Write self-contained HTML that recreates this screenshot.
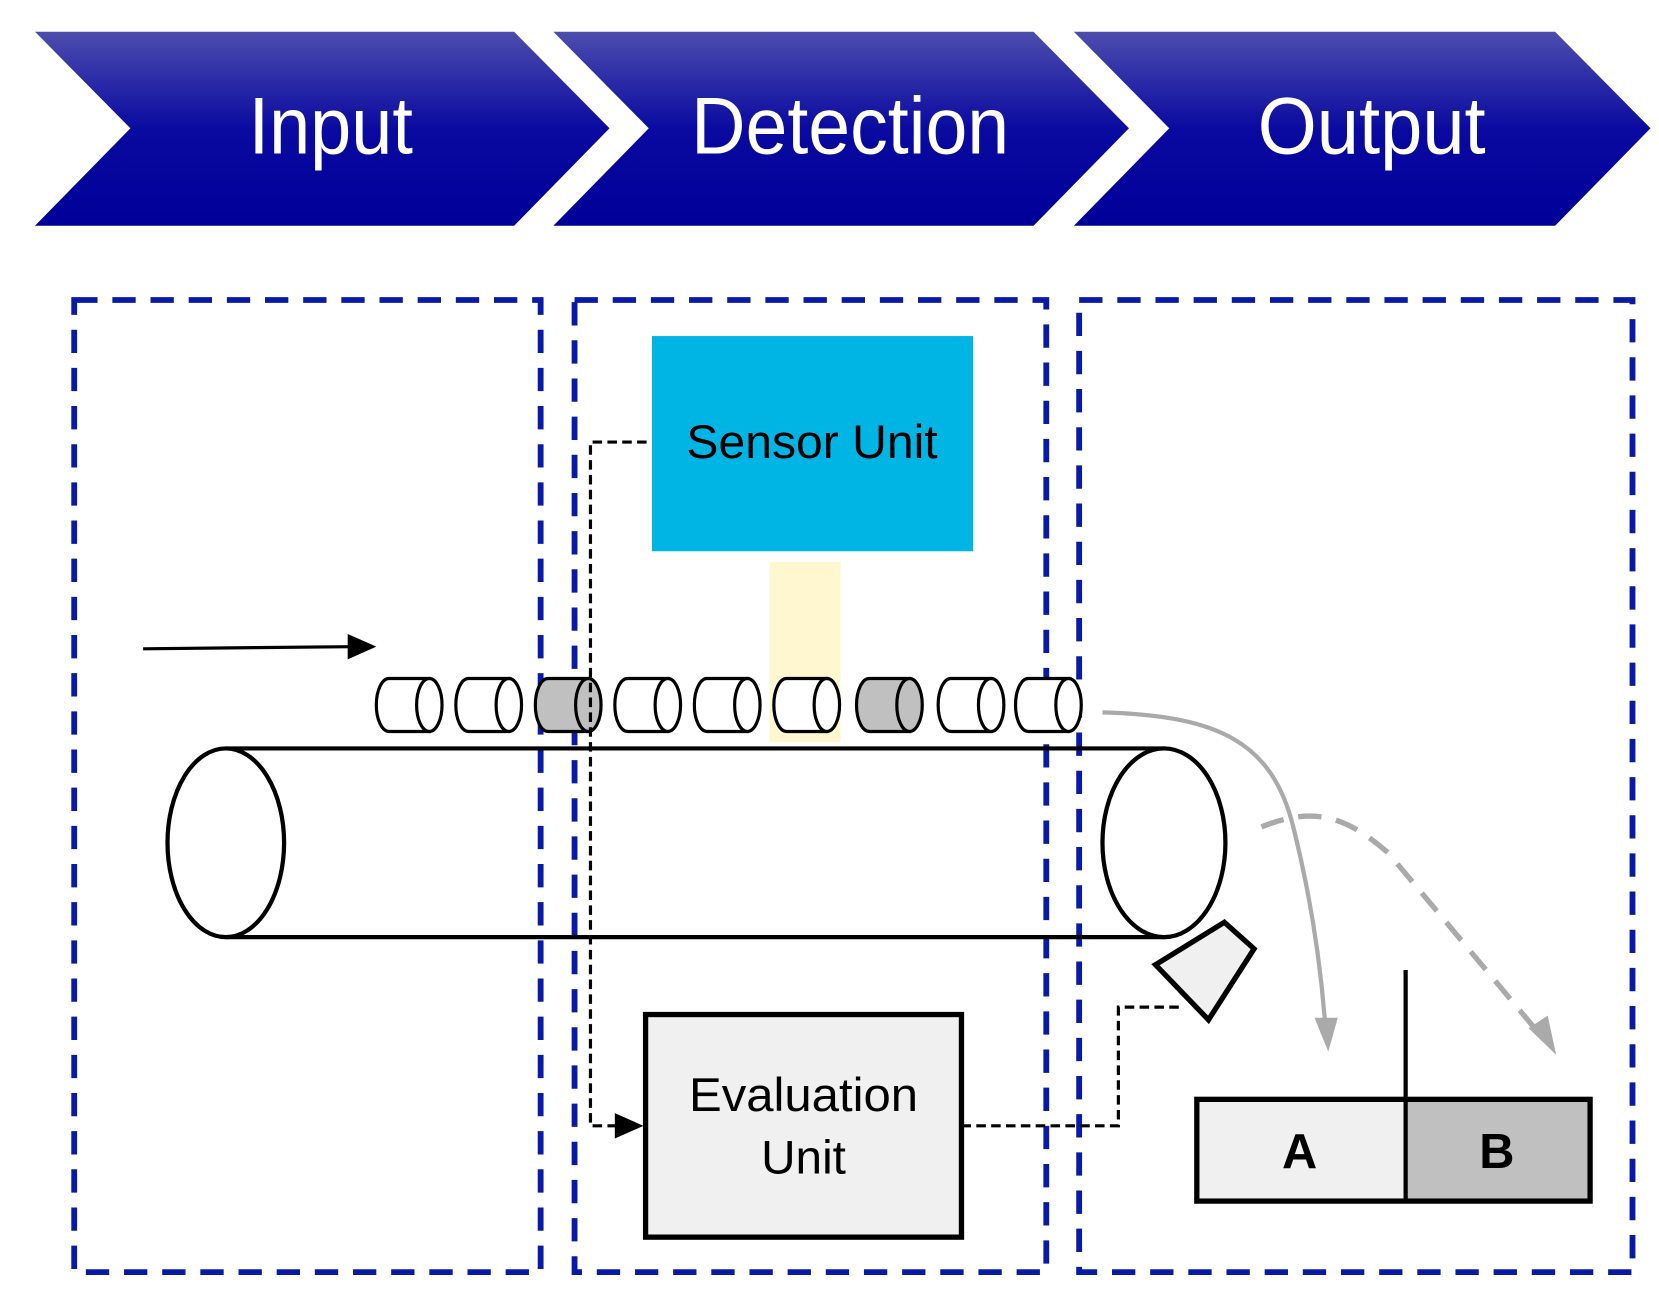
<!DOCTYPE html>
<html><head><meta charset="utf-8"><style>html,body{margin:0;padding:0;background:#fff;}svg{display:block}</style></head>
<body>
<svg width="1659" height="1305" viewBox="0 0 1565 1231" preserveAspectRatio="none" xmlns="http://www.w3.org/2000/svg" font-family="Liberation Sans, Arial, sans-serif">
<defs>
<linearGradient id="g" x1="0" y1="0" x2="0" y2="1">
<stop offset="0" stop-color="#4d4dae"/><stop offset="0.5" stop-color="#0a0aa0"/><stop offset="1" stop-color="#000099"/>
</linearGradient>
</defs>
<g fill="url(#g)">
<polygon points="33,30 485,30 575,121 485,213 33,213 123,121"/>
<polygon points="522,30 975,30 1065,121 975,213 522,213 612,121"/>
<polygon points="1013,30 1467,30 1557,121 1467,213 1013,213 1103,121"/>
</g>
<g fill="#fff" font-size="76" text-anchor="middle">
<text x="312" y="145" textLength="155" lengthAdjust="spacingAndGlyphs">Input</text>
<text x="802" y="145" textLength="300" lengthAdjust="spacingAndGlyphs">Detection</text>
<text x="1294" y="145" textLength="215" lengthAdjust="spacingAndGlyphs">Output</text>
</g>
<g fill="none" stroke="#0a1aa8" stroke-width="5.5" stroke-dasharray="22,14">
<rect x="70" y="283" width="440" height="917"/>
<rect x="542" y="283" width="445" height="917"/>
<rect x="1018" y="283" width="522" height="917"/>
</g>
<rect x="726" y="530" width="67" height="170" fill="#fff7cf"/>
<rect x="615" y="317" width="303" height="203" fill="#00b4e4"/>
<text x="766" y="432" font-size="45" text-anchor="middle" textLength="237" lengthAdjust="spacingAndGlyphs">Sensor Unit</text>
<line x1="135" y1="612" x2="330" y2="610" stroke="#000" stroke-width="3"/>
<polygon points="328,598 355,610 328,622" fill="#000"/>
<!-- conveyor -->
<g stroke="#000" stroke-width="4" fill="none">
<line x1="213" y1="706" x2="1100" y2="706"/>
<line x1="213" y1="884" x2="1100" y2="884"/>
<ellipse cx="213" cy="795" rx="55" ry="89" fill="#fff"/>
<ellipse cx="1098" cy="795" rx="58" ry="89" fill="#fff"/>
</g>
<!-- small cylinders -->
<g stroke="#000" stroke-width="3">
<g id="c"><path d="M367,640 L405,640 L405,690 L367,690 A12,25 0 0 1 367,640 Z" fill="#fff"/><ellipse cx="405" cy="665" rx="12" ry="25" fill="#fff"/></g>
<use href="#c" x="75"/>
<g transform="translate(150,0)"><path d="M367,640 L405,640 L405,690 L367,690 A12,25 0 0 1 367,640 Z" fill="#c0c0c0"/><ellipse cx="405" cy="665" rx="12" ry="25" fill="#c0c0c0"/></g>
<use href="#c" x="225"/>
<use href="#c" x="300"/>
<use href="#c" x="375"/>
<g transform="translate(453,0)"><path d="M367,640 L405,640 L405,690 L367,690 A12,25 0 0 1 367,640 Z" fill="#c0c0c0"/><ellipse cx="405" cy="665" rx="12" ry="25" fill="#c0c0c0"/></g>
<use href="#c" x="530"/>
<use href="#c" x="603"/>
</g>
<!-- dashed signal lines -->
<path d="M610,417 L557,417 L557,1062 L590,1062" fill="none" stroke="#000" stroke-width="3" stroke-dasharray="9,5"/>
<polygon points="580,1050 607,1062 580,1074" fill="#000"/>
<path d="M907,1062 L1055,1062 L1055,950 L1113,950" fill="none" stroke="#000" stroke-width="3" stroke-dasharray="9,5"/>
<rect x="609" y="957" width="298" height="210" fill="#f0f0f0" stroke="#000" stroke-width="5"/>
<g font-size="45" text-anchor="middle">
<text x="758" y="1048" textLength="216" lengthAdjust="spacingAndGlyphs">Evaluation</text>
<text x="758" y="1107" textLength="80" lengthAdjust="spacingAndGlyphs">Unit</text>
</g>
<!-- gray arrows -->
<path d="M1040,672 C1150,675 1200,700 1220,780 C1235,840 1245,900 1250,965" fill="none" stroke="#aaa" stroke-width="4"/>
<polygon points="1240,960 1262,960 1253,992" fill="#aaa"/>
<path d="M1190,780 C1240,760 1270,770 1310,805 L1452,975" fill="none" stroke="#aaa" stroke-width="5" stroke-dasharray="22,14"/>
<polygon points="1442,970 1460,958 1468,995" fill="#aaa"/>
<polygon points="1090,910 1155,870 1183,895 1140,962" fill="#f0f0f0" stroke="#000" stroke-width="5" stroke-linejoin="miter"/>
<line x1="1326" y1="915" x2="1326" y2="1037" stroke="#000" stroke-width="4"/>
<rect x="1129" y="1037" width="197" height="96" fill="#f0f0f0"/>
<rect x="1326" y="1037" width="174" height="96" fill="#c0c0c0"/>
<rect x="1129" y="1037" width="371" height="96" fill="none" stroke="#000" stroke-width="5"/>
<line x1="1326" y1="1037" x2="1326" y2="1133" stroke="#000" stroke-width="4"/>
<g font-size="46" font-weight="bold" text-anchor="middle">
<text x="1226" y="1102">A</text>
<text x="1412" y="1102">B</text>
</g>
</svg>
</body></html>
